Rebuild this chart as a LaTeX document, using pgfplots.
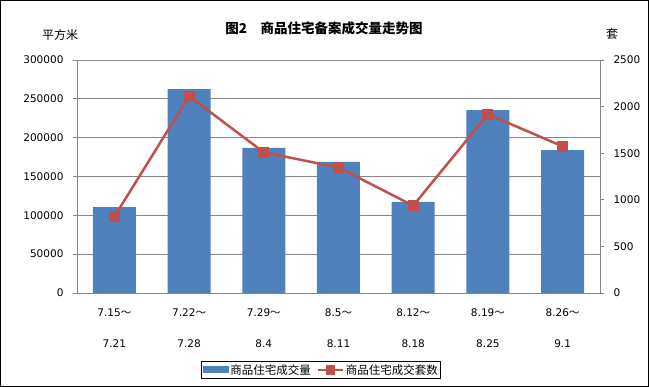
\documentclass[border=0pt]{standalone}
\usepackage{pgfplots}
\pgfplotsset{compat=1.18}
\usepackage{fontspec}
\setmainfont{DejaVu Sans}
\newfontfamily\cjk{Noto Sans CJK SC}
\definecolor{barblue}{HTML}{4F81BD}
\definecolor{linered}{HTML}{C0504D}
\definecolor{gridgray}{HTML}{868686}
\begin{document}
\begin{tikzpicture}[x=1pt,y=1pt]
\path[use as bounding box] (0,0) rectangle (649,387);
\draw[black, line width=1pt] (0.5,0.5) rectangle (648.5,386.5);
\node[font=\cjk\bfseries\fontsize{13.5}{15}\selectfont] at (324,359) {图2\quad 商品住宅备案成交量走势图};
\node[font=\cjk\fontsize{12}{14}\selectfont] at (60,352) {平方米};
\node[font=\cjk\fontsize{12}{14}\selectfont] at (612,353) {套};
\begin{axis}[at={(77pt,94pt)}, anchor=south west, scale only axis,
  width=523pt, height=233pt,
  xmin=-0.5, xmax=6.5, ymin=0, ymax=300000,
  ytick={0,50000,100000,150000,200000,250000,300000},
  scaled y ticks=false,
  /pgf/number format/fixed,
  /pgf/number format/1000 sep={},
  /pgf/number format/assume math mode=true,
  ticklabel style={font=\fontsize{10.5}{12}\selectfont},
  xtick={0,1,2,3,4,5,6},
  xticklabels={{7.15{\cjk ～}\\[19pt]7.21},{7.22{\cjk ～}\\[19pt]7.28},{7.29{\cjk ～}\\[19pt]8.4},{8.5{\cjk ～}\\[19pt]8.11},{8.12{\cjk ～}\\[19pt]8.18},{8.19{\cjk ～}\\[19pt]8.25},{8.26{\cjk ～}\\[19pt]9.1}},
  xticklabel style={align=center, yshift=-8pt},
  yticklabel style={xshift=-6pt},
  axis x line*=bottom, axis y line*=left,
  axis line style={gridgray, line width=0.8pt},
  x axis line style={-}, y axis line style={-},
  ymajorgrids, major grid style={gridgray, line width=0.8pt},
  tick align=outside, major tick length=4pt,
  ytick style={gridgray, line width=0.8pt},
  xtick style={draw=none},
]
\addplot[ybar, bar width=43pt, fill=barblue, draw=none] coordinates {
(0,110700) (1,262600) (2,186700) (3,168700) (4,117200) (5,235600) (6,184100)};
\end{axis}
\begin{axis}[at={(77pt,94pt)}, anchor=south west, scale only axis,
  width=523pt, height=233pt,
  xmin=-0.5, xmax=6.5, ymin=0, ymax=2500,
  ytick={0,500,1000,1500,2000,2500},
  /pgf/number format/fixed,
  /pgf/number format/1000 sep={},
  /pgf/number format/assume math mode=true,
  ticklabel style={font=\fontsize{10.5}{12}\selectfont},
  yticklabel style={xshift=6pt},
  axis x line=none, axis y line*=right,
  axis line style={gridgray, line width=0.8pt},
  y axis line style={-},
  tick align=outside, major tick length=4pt,
  ytick style={gridgray, line width=0.8pt},
  legend columns=2,
  legend style={at={(0.467,-0.33)}, anchor=center, draw=black, line width=0.8pt,
    font=\cjk\fontsize{11.5}{13}\selectfont, inner sep=1pt,
    /tikz/every even column/.append style={column sep=4pt}},
]
\addlegendimage{legend image code/.code={\fill[barblue] (0pt,-3pt) rectangle (25pt,3pt);}}
\addlegendentry{商品住宅成交量}
\addplot[linered, line width=2.5pt, mark=square*, mark size=4.25pt, mark options={fill=linered, solid},
  legend image code/.code={\draw[linered,line width=2pt] (0pt,0pt)--(25pt,0pt); \fill[linered] (9pt,-3.5pt) rectangle (16pt,3.5pt);}]
 coordinates {(0,819) (1,2112) (2,1509) (3,1347) (4,937) (5,1918) (6,1573)};
\addlegendentry{商品住宅成交套数}
\end{axis}
\end{tikzpicture}
\end{document}
